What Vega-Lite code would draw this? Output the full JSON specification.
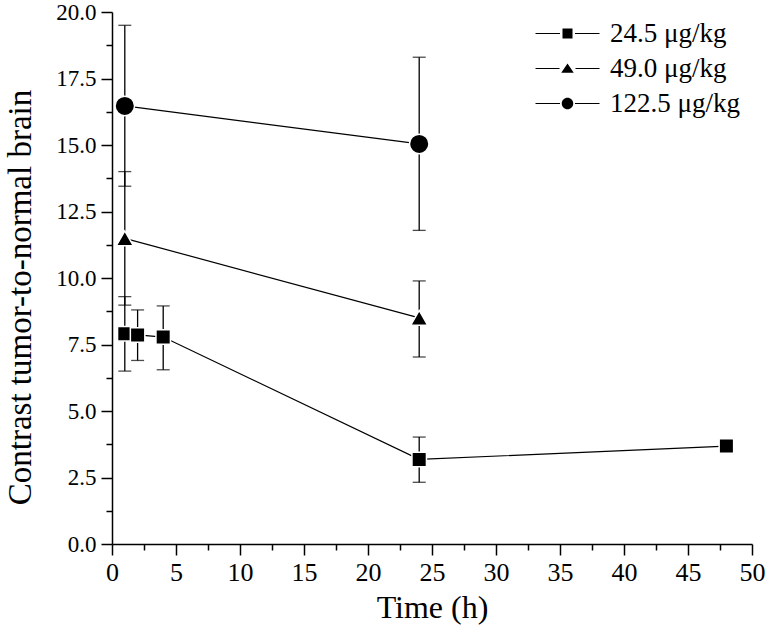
{
  "$schema": "https://vega.github.io/schema/vega-lite/v6.json",
  "width": 640,
  "height": 532,
  "autosize": {"type": "none"},
  "padding": {"left": 112, "top": 12, "right": 15, "bottom": 85},
  "background": "white",
  "config": {
    "view": {"stroke": null},
    "font": "Liberation Serif",
    "axis": {
      "domainColor": "black", "domainWidth": 1.5, "tickColor": "black", "tickWidth": 1.5,
      "labelColor": "black", "titleColor": "black", "labelFont": "Liberation Serif", "titleFont": "Liberation Serif",
      "labelFontSize": 26, "titleFontSize": 32, "titleFontWeight": "normal", "grid": false, "tickSize": 11,
      "labelFlush": false
    },
    "legend": {"labelFont": "Liberation Serif", "labelFontSize": 27, "labelColor": "black"}
  },
  "data": {
    "values": [
      {"series": "24.5 μg/kg", "time": 1, "value": 7.9, "lo": 6.5, "hi": 9.3},
      {"series": "24.5 μg/kg", "time": 2, "value": 7.86, "lo": 6.9, "hi": 8.8},
      {"series": "24.5 μg/kg", "time": 4, "value": 7.78, "lo": 6.55, "hi": 8.95},
      {"series": "24.5 μg/kg", "time": 24, "value": 3.18, "lo": 2.32, "hi": 4.02},
      {"series": "24.5 μg/kg", "time": 48, "value": 3.68, "lo": null, "hi": null},
      {"series": "49.0 μg/kg", "time": 1, "value": 11.49, "lo": 8.98, "hi": 14.0},
      {"series": "49.0 μg/kg", "time": 24, "value": 8.5, "lo": 7.03, "hi": 9.89},
      {"series": "122.5 μg/kg", "time": 1, "value": 16.47, "lo": 13.45, "hi": 19.5},
      {"series": "122.5 μg/kg", "time": 24, "value": 15.04, "lo": 11.79, "hi": 18.3}
    ]
  },
  "resolve": {"scale": {"shape": "independent"}, "axis": {"x": "independent", "y": "independent"}},
  "layer": [
    {
      "mark": {"type": "line", "color": "black", "strokeWidth": 1.2},
      "encoding": {
        "x": {"field": "time", "type": "quantitative", "scale": {"domain": [0, 50], "nice": false},
          "axis": {"values": [0, 5, 10, 15, 20, 25, 30, 35, 40, 45, 50], "title": "Time (h)", "labelPadding": 4, "titlePadding": 7, "orient": "bottom"}},
        "y": {"field": "value", "type": "quantitative", "scale": {"domain": [0, 20], "nice": false},
          "axis": {"values": [0, 2.5, 5, 7.5, 10, 12.5, 15, 17.5, 20], "format": ".1f", "title": "Contrast tumor-to-normal brain", "titleFontSize": 33, "titleY": 285, "labelFontSize": 23, "labelPadding": 5, "titlePadding": 18, "orient": "left"}},
        "detail": {"field": "series", "type": "nominal"}
      }
    },
    {
      "transform": [{"filter": "datum.lo != null"}],
      "mark": {"type": "rule", "color": "black", "strokeWidth": 1.3},
      "encoding": {
        "x": {"field": "time", "type": "quantitative",
          "axis": {"orient": "bottom", "values": [2.5, 7.5, 12.5, 17.5, 22.5, 27.5, 32.5, 37.5, 42.5, 47.5], "labels": false, "domain": false, "title": null, "tickSize": 6}},
        "y": {"field": "lo", "type": "quantitative",
          "axis": {"orient": "left", "values": [1.25, 3.75, 6.25, 8.75, 11.25, 13.75, 16.25, 18.75], "labels": false, "domain": false, "title": null, "tickSize": 6}},
        "y2": {"field": "hi"}
      }
    },
    {
      "transform": [{"filter": "datum.lo != null"}],
      "mark": {"type": "tick", "orient": "horizontal", "color": "black", "size": 13, "thickness": 1.3},
      "encoding": {
        "x": {"field": "time", "type": "quantitative", "axis": null},
        "y": {"field": "lo", "type": "quantitative", "axis": null}
      }
    },
    {
      "transform": [{"filter": "datum.lo != null"}],
      "mark": {"type": "tick", "orient": "horizontal", "color": "black", "size": 13, "thickness": 1.3},
      "encoding": {
        "x": {"field": "time", "type": "quantitative", "axis": null},
        "y": {"field": "hi", "type": "quantitative", "axis": null}
      }
    },
    {
      "mark": {"type": "point", "filled": true, "fill": "black", "stroke": "white", "strokeWidth": 1.5, "opacity": 1},
      "encoding": {
        "x": {"field": "time", "type": "quantitative", "axis": null},
        "y": {"field": "value", "type": "quantitative", "axis": null},
        "shape": {"field": "series", "type": "nominal", "legend": null,
          "scale": {"domain": ["24.5 μg/kg", "49.0 μg/kg", "122.5 μg/kg"], "range": ["square", "triangle-up", "circle"]}},
        "size": {"field": "series", "type": "nominal", "legend": null,
          "scale": {"domain": ["24.5 μg/kg", "49.0 μg/kg", "122.5 μg/kg"], "range": [210, 380, 210]}}
      }
    },
    {
      "transform": [{"filter": "false"}],
      "mark": {"type": "point", "filled": true, "color": "black", "opacity": 1},
      "encoding": {
        "shape": {"field": "series", "type": "nominal",
          "scale": {"domain": ["24.5 μg/kg", "49.0 μg/kg", "122.5 μg/kg"],
            "range": [
              "M-6.4,-0.12H-1.5V0.12H-6.4ZM1.5,-0.12H6.4V0.12H1.5ZM-1,-1H1V1H-1Z",
              "M-6.4,-0.12H-1.6V0.12H-6.4ZM1.6,-0.12H6.4V0.12H1.6ZM0,-1L1.25,0.85L-1.25,0.85Z",
              "M-6.4,-0.12H-1.5V0.12H-6.4ZM1.5,-0.12H6.4V0.12H1.5ZM-1.15,0A1.15,1.15,0,1,0,1.15,0A1.15,1.15,0,1,0,-1.15,0Z"
            ]},
          "legend": {"title": null, "orient": "none", "legendX": 442, "legendY": 8, "symbolSize": 100,
            "labelOffset": 29, "rowPadding": 7, "padding": 0, "symbolFillColor": "black", "symbolStrokeWidth": 0, "symbolOpacity": 1,
            "encode": {"symbols": {"update": {"fill": {"value": "black"}, "opacity": {"value": 1}}}}}}
      }
    }
  ]
}
